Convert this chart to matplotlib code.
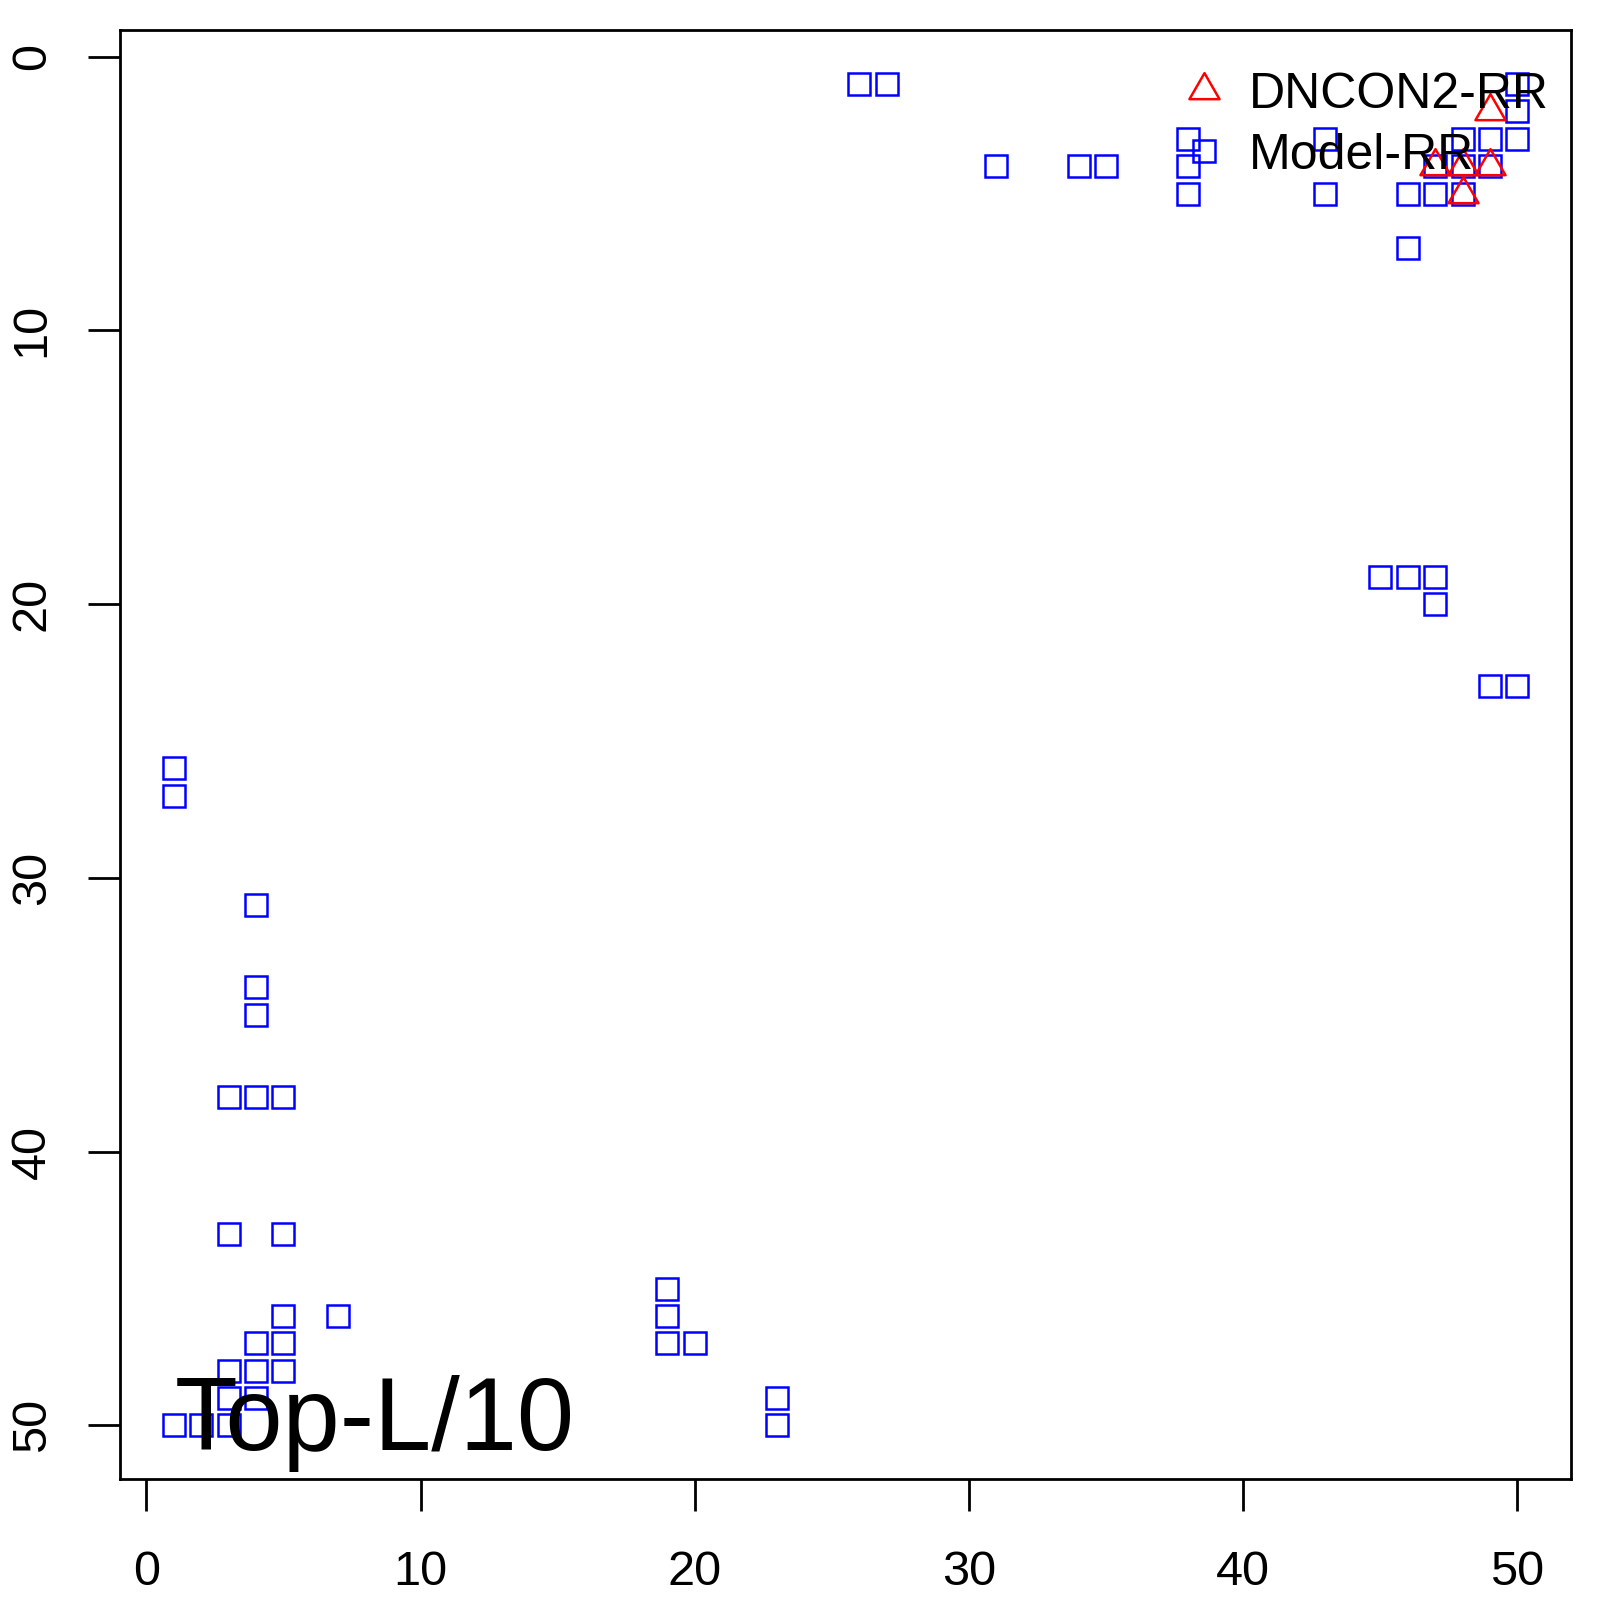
import matplotlib
matplotlib.use("Agg")
import matplotlib.pyplot as plt
from matplotlib.path import Path

plt.rcParams['font.family'] = ['Liberation Sans', 'DejaVu Sans']

# Model-RR points (x, y)
model_x = [1, 1, 4, 4, 4, 3, 4, 5, 3, 5, 5, 7, 4, 5, 3, 4, 5, 3, 4, 1, 2, 3,
           19, 19, 19, 20, 23, 23,
           26, 27, 31, 34, 35, 38, 38, 38, 43, 43,
           45, 46, 47, 47, 49, 50,
           46, 47, 48, 46, 47, 48, 48, 49, 49, 50, 50, 50]
model_y = [26, 27, 31, 34, 35, 38, 38, 38, 43, 43, 46, 46, 47, 47, 48, 48, 48, 49, 49, 50, 50, 50,
           45, 46, 47, 47, 49, 50,
           1, 1, 4, 4, 4, 3, 4, 5, 3, 5,
           19, 19, 19, 20, 23, 23,
           5, 5, 5, 7, 4, 3, 4, 3, 4, 1, 2, 3]

# DNCON2-RR points
dncon_x = [49, 47, 48, 49, 48]
dncon_y = [2, 4, 4, 4, 5]

panel_label = "Top-L/10"

# R style open triangle (centred on centroid)
tri = Path([(0, 1), (-0.866, -0.5), (0.866, -0.5), (0, 1)],
           [Path.MOVETO, Path.LINETO, Path.LINETO, Path.CLOSEPOLY])

fig = plt.figure(figsize=(16, 16), dpi=100)
ax = fig.add_axes([0.075, 0.0756, 0.907, 0.9054])

ax.plot(model_x, model_y, linestyle='none', marker='s', ms=15.5, mew=1.8,
        mfc='none', mec='#0000FF', label='Model-RR')
ax.plot(dncon_x, dncon_y, linestyle='none', marker=tri, ms=25, mew=1.8,
        mfc='none', mec='#FF0000', label='DNCON2-RR')

ax.set_xlim(-0.96, 51.96)
ax.set_ylim(51.96, -0.96)
ax.set_xticks([0, 10, 20, 30, 40, 50])
ax.set_yticks([0, 10, 20, 30, 40, 50])

for s in ax.spines.values():
    s.set_linewidth(2.0)
ax.tick_params(axis='both', direction='out', length=23, width=2.0, labelsize=35)
ax.tick_params(axis='x', pad=28)
ax.tick_params(axis='y', pad=24)
for lab in ax.get_yticklabels():
    lab.set_rotation(90)
    lab.set_va('center')

ax.text(1.05, 50.9, panel_label, fontsize=74, ha='left', va='baseline')

h, l = ax.get_legend_handles_labels()
ax.legend(h[::-1], l[::-1], loc='upper left', bbox_to_anchor=(0.7333, 0.9715),
          frameon=False, fontsize=36, handlelength=0.8, handletextpad=0.5,
          labelspacing=0.3, borderpad=0, borderaxespad=0)

fig.savefig('out.png', dpi=100)
